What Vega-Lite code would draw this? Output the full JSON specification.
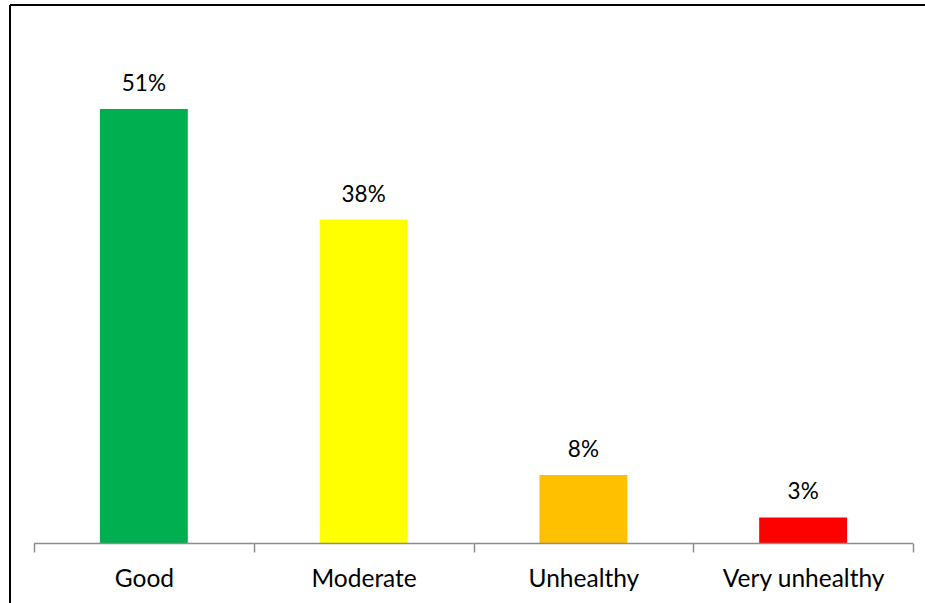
{
  "$schema": "https://vega.github.io/schema/vega-lite/v6.json",
  "width": 930,
  "height": 608,
  "autosize": {"type": "none"},
  "padding": {"left": 10, "top": 5, "right": -15, "bottom": -10},
  "background": "white",
  "config": {"view": {"stroke": null}, "font": "Lato"},
  "data": {
    "values": [
      {"category": "Good", "value": 0.51},
      {"category": "Moderate", "value": 0.38},
      {"category": "Unhealthy", "value": 0.08},
      {"category": "Very unhealthy", "value": 0.03}
    ]
  },
  "resolve": {"scale": {"x": "independent"}, "axis": {"x": "independent"}},
  "layer": [
    {
      "mark": {"type": "bar", "width": {"band": 0.4}},
      "encoding": {
        "x": {
          "field": "category",
          "type": "nominal",
          "sort": null,
          "scale": {"paddingInner": 0, "paddingOuter": 0.116, "align": 0.4706},
          "axis": {
            "title": null,
            "domain": false,
            "grid": false,
            "tickBand": "extent",
            "tickColor": "#8c8c8c",
            "tickSize": 9,
            "tickWidth": 1.5,
            "labelFont": "Lato",
            "labelFontSize": 24.5,
            "labelColor": "#000000",
            "labelBaseline": "alphabetic",
            "labelPadding": 34,
            "labelAngle": 0,
            "offset": -70
          }
        },
        "y": {"field": "value", "type": "quantitative", "scale": {"domain": [-0.0823, 0.6322], "nice": false, "zero": false}, "axis": null},
        "y2": {"datum": 0},
        "color": {
          "field": "category",
          "type": "nominal",
          "sort": null,
          "scale": {"domain": ["Good", "Moderate", "Unhealthy", "Very unhealthy"], "range": ["#00B050", "#FFFF00", "#FFC000", "#FF0000"]},
          "legend": null
        }
      }
    },
    {
      "layer": [
        {
          "mark": {"type": "bar", "width": {"band": 1}, "color": "#8c8c8c"},
          "encoding": {
            "y": {"datum": 0.0003, "type": "quantitative"},
            "y2": {"datum": -0.0014}
          }
        },
        {
          "mark": {"type": "text", "baseline": "alphabetic", "dy": -18, "fontSize": 22.5, "font": "Lato", "color": "#000000"},
          "encoding": {
            "y": {"field": "value", "type": "quantitative"},
            "text": {"field": "value", "type": "quantitative", "format": ".0%"}
          }
        }
      ],
      "encoding": {
        "x": {
          "field": "category",
          "type": "nominal",
          "sort": null,
          "scale": {"paddingInner": 0, "paddingOuter": 0.116, "align": 0.4706},
          "axis": null
        }
      }
    },
    {
      "mark": {"type": "rule", "color": "#000000", "strokeWidth": 2},
      "encoding": {
        "x": {"datum": 0, "type": "quantitative", "scale": {"domain": [0, 1], "nice": false}, "axis": null}
      }
    },
    {
      "mark": {"type": "rule", "color": "#000000", "strokeWidth": 2},
      "encoding": {
        "y": {"datum": 0.6322, "type": "quantitative"}
      }
    }
  ]
}
